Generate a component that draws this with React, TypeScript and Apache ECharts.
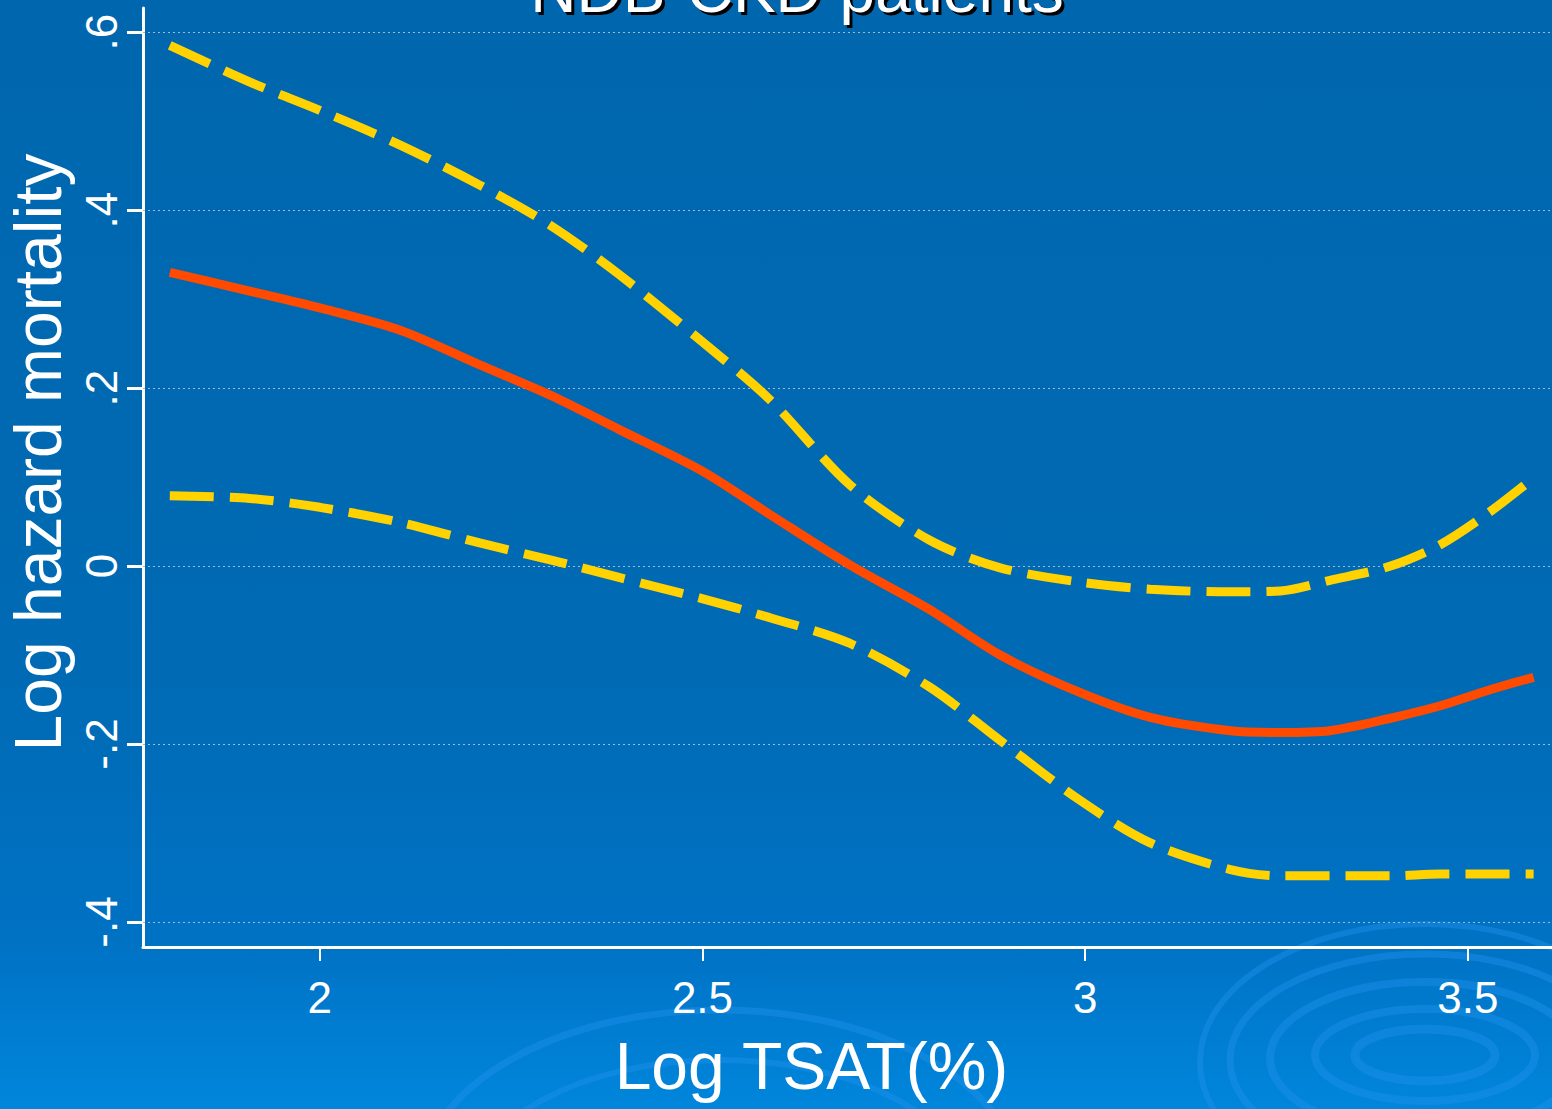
import React, { useEffect, useRef } from "react";
import * as echarts from "echarts";

const logTsat = [1.804, 1.908, 2.0, 2.105, 2.209, 2.301, 2.392, 2.497, 2.588, 2.693, 2.797, 2.889, 2.993, 3.085, 3.19, 3.255, 3.32, 3.399, 3.464, 3.529, 3.586];
const estimate = [0.33, 0.309, 0.29, 0.265, 0.226, 0.192, 0.153, 0.108, 0.058, 0.001, -0.049, -0.1, -0.142, -0.17, -0.185, -0.187, -0.185, -0.171, -0.157, -0.139, -0.125];
const upperCI = [0.585, 0.544, 0.512, 0.473, 0.428, 0.383, 0.327, 0.254, 0.187, 0.091, 0.029, -0.002, -0.018, -0.026, -0.029, -0.028, -0.016, 0.0, 0.024, 0.061, 0.099];
const lowerCI = [0.079, 0.076, 0.066, 0.049, 0.026, 0.007, -0.013, -0.036, -0.058, -0.087, -0.136, -0.196, -0.263, -0.311, -0.341, -0.348, -0.348, -0.348, -0.346, -0.346, -0.346];
const xTicks = [2, 2.5, 3, 3.5];
const yTicks = [-0.4, -0.2, 0, 0.2, 0.4, 0.6];
const titleText = "NDB-CKD patients";

const FONT = "'Liberation Sans', Arial, sans-serif";

function fmtY(v: number) {
  if (Math.abs(v) < 1e-9) return "0";
  const s = Math.abs(v).toFixed(1).replace(/^0/, "");
  return (v < 0 ? "-" : "") + s;
}

export default function App() {
  const ref = useRef<HTMLDivElement>(null);
  useEffect(() => {
    if (!ref.current) return;
    const chart = echarts.init(ref.current, null, { renderer: "svg" });
    const pairs = (ys: number[]) => logTsat.map((x, i) => [x, ys[i]]);
    const ringColor = "rgba(30,145,235,0.45)";
    const ellipse = (cx: number, cy: number, rx: number, ry: number, w: number) => ({
      type: "ellipse",
      silent: true,
      z: -10,
      shape: { cx, cy, rx, ry },
      style: { fill: "none", stroke: ringColor, lineWidth: w },
    });
    chart.setOption({
      animation: false,
      backgroundColor: "transparent",
      textStyle: { fontFamily: FONT },
      graphic: [
        ellipse(1425, 1055, 70, 26, 9),
        ellipse(1425, 1055, 110, 46, 8),
        ellipse(1425, 1058, 155, 76, 8),
        ellipse(1425, 1060, 195, 106, 7),
        ellipse(1425, 1062, 225, 138, 6),
        ellipse(720, 1185, 300, 175, 7),
        ellipse(720, 1195, 250, 135, 6),
        {
          type: "text",
          x: 800,
          y: -7,
          z: 9,
          silent: true,
          style: {
            text: titleText,
            fill: "#000000",
            font: `64px ${FONT}`,
            textAlign: "center",
            textVerticalAlign: "middle",
          },
        },
        {
          type: "text",
          x: 797,
          y: -10,
          z: 10,
          style: {
            text: titleText,
            fill: "#ffffff",
            font: `64px ${FONT}`,
            textAlign: "center",
            textVerticalAlign: "middle",
          },
        },
      ],
      grid: { left: 143, top: 8, right: 0, bottom: 162, containLabel: false, outerBoundsMode: "none" },
      xAxis: {
        type: "value",
        min: 1.769,
        max: 3.61,
        name: "Log TSAT(%)",
        nameLocation: "middle",
        nameGap: 86,
        nameTextStyle: { color: "#ffffff", fontSize: 66, fontFamily: FONT, padding: [0, 72, 0, 0] },
        axisLine: { onZero: false, lineStyle: { color: "#ffffff", width: 3 } },
        axisTick: { show: true, length: 14, customValues: xTicks, lineStyle: { color: "#ffffff", width: 2 } },
        axisLabel: { customValues: xTicks, color: "#ffffff", fontSize: 44, fontFamily: FONT, margin: 28, formatter: (v: number) => String(v) },
        splitLine: { show: false },
      },
      yAxis: {
        type: "value",
        min: -0.428,
        max: 0.627,
        name: "Log hazard mortality",
        nameLocation: "middle",
        nameRotate: 90,
        nameGap: 64,
        nameTextStyle: { color: "#ffffff", fontSize: 66, fontFamily: FONT, padding: [0, 0, 0, 50] },
        axisLine: { show: true, onZero: false, lineStyle: { color: "#ffffff", width: 3 } },
        axisTick: { show: true, length: 16, customValues: yTicks, lineStyle: { color: "#ffffff", width: 3 } },
        axisLabel: { customValues: yTicks, rotate: 90, color: "#ffffff", fontSize: 44, fontFamily: FONT, margin: 20, formatter: fmtY },
        splitLine: { show: false },
      },
      series: [
        {
          type: "line",
          name: "upper",
          data: pairs(upperCI),
          smooth: 0.3,
          showSymbol: false,
          symbol: "none",
          lineStyle: { color: "#ffd200", width: 9, type: [44, 16], cap: "butt" },
          z: 3,
          markLine: {
            silent: true,
            symbol: "none",
            label: { show: false },
            z: 1,
            lineStyle: { color: "#9fb9d6", width: 1, type: [2, 3] },
            data: yTicks.map((v) => ({ yAxis: v })),
          },
        },
        {
          type: "line",
          name: "lower",
          data: pairs(lowerCI),
          smooth: 0.3,
          showSymbol: false,
          symbol: "none",
          lineStyle: { color: "#ffd200", width: 9, type: [44, 16], cap: "butt" },
          z: 3,
        },
        {
          type: "line",
          name: "estimate",
          data: pairs(estimate),
          smooth: 0.3,
          showSymbol: false,
          symbol: "none",
          lineStyle: { color: "#ff4a00", width: 9 },
          z: 4,
        },
      ],
    });
    return () => chart.dispose();
  }, []);
  return (
    <div
      ref={ref}
      style={{
        position: "fixed",
        left: 0,
        top: 0,
        width: 1552,
        height: 1109,
        background: "linear-gradient(to bottom, #0067ae 0%, #006ab4 60%, #0072c4 85%, #0086dc 100%)",
      }}
    />
  );
}
